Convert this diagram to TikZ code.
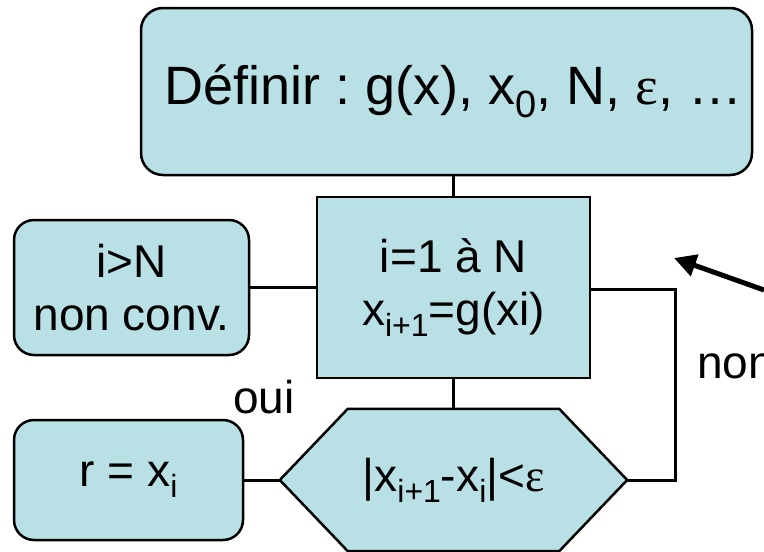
\documentclass[tikz,border=0pt]{standalone}
\usepackage{fontspec}
\setmainfont{Liberation Sans}
\newfontfamily\greekserif{Liberation Serif}
\usetikzlibrary{arrows.meta,backgrounds}
\definecolor{boxfill}{RGB}{185,224,228}
\frenchspacing
% lowered, smaller index text
\newcommand\lowsub[1]{\raisebox{-11pt}{\fontsize{32}{32}\selectfont #1}}
\newcommand\bigsub[1]{\raisebox{-13pt}{\fontsize{38}{38}\selectfont #1}}
\newcommand\eps{{\greekserif ε}}
\tikzset{
  every node/.style={font=\fontsize{46}{53}\selectfont, align=center, inner sep=0pt},
  roundbox/.style={draw, line width=2.5pt, fill=boxfill, rounded corners=22pt},
  plainbox/.style={draw, line width=2.5pt, fill=boxfill},
  link/.style={line width=3pt},
}
\begin{document}
\begin{tikzpicture}[x=1pt, y=-1pt]
\useasboundingbox (0,0) rectangle (764,552);

% start block
\node[roundbox, minimum width=611pt, minimum height=167pt,
      font=\fontsize{54}{60}\selectfont] (start) at (446.5,91.5)
  {\hspace*{14pt}Définir : g(x), x\bigsub{0}, N, \eps, …};

% iteration block
\node[plainbox, minimum width=273pt, minimum height=181pt] (iter) at (453.5,287.5)
  {i=1 à N\\x\lowsub{i+1}=g(xi)};

% failure exit
\node[roundbox, rounded corners=20pt, minimum width=235pt, minimum height=135pt] (fail) at (131.5,287.5)
  {i>N\\non conv.};

% result
\node[roundbox, rounded corners=20pt, minimum width=229pt, minimum height=120pt] (res) at (128.5,480)
  {r = x\lowsub{i}};

% convergence test (hexagon)
\node[minimum width=347pt, minimum height=142pt] (test) at (453.5,480)
  {|x\lowsub{i+1}-x\lowsub{i}|<\eps};
\begin{scope}[on background layer]
\draw[line width=2.5pt, fill=boxfill, line join=miter]
  (test.west) -- ([xshift=68pt]test.north west) -- ([xshift=-68pt]test.north east)
  -- (test.east) -- ([xshift=-68pt]test.south east) -- ([xshift=68pt]test.south west) -- cycle;
\end{scope}

% connectors
\draw[link] (iter.north) -- (iter.north |- start.south);
\draw[link] (fail.east) -- (fail.east -| iter.west);
\draw[link] (iter.south) -- (iter.south |- test.north);
\draw[link] (res.east) -- (test.west);
\coordinate (back) at (675,289);
\draw[link] (test.east) -- (test.east -| back) -- (back) -- (back -| iter.east);

% labels
\node (oui) at (264,397) {oui};
\node[anchor=base west] (non) at (697,378) {non};

% pointer arrow
\coordinate (ptr) at (764,290);
\coordinate (ptrtip) at (674,258);
\draw[line width=5pt, -{Triangle[length=22pt, width=22pt]}] (ptr) -- (ptrtip);
\end{tikzpicture}
\end{document}
